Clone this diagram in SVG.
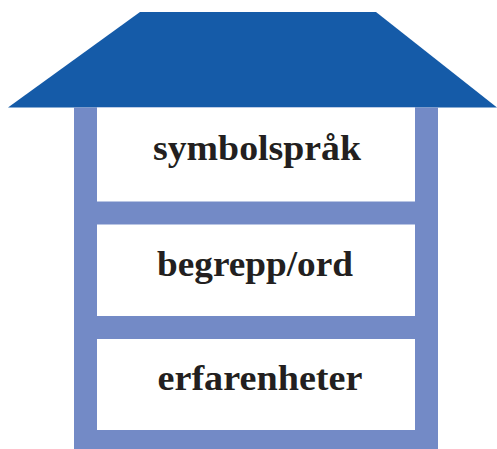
<svg xmlns="http://www.w3.org/2000/svg" width="497" height="449" viewBox="0 0 497 449">
<style>
.wall{fill:#738ac6}
.room{fill:#ffffff}
.lbl{font-family:"Liberation Serif","Times New Roman",serif;font-weight:bold;font-size:35px;fill:#231f20;text-anchor:middle}
</style>
<rect width="497" height="449" fill="#ffffff"/>
<g id="roof"><polygon points="140,12 376,12 497,107.5 8,107.5" fill="#155ba8"/></g>
<g id="frame"><rect class="wall" x="74" y="107.5" width="364" height="341.5"/></g>
<g id="symbolsprak">
<rect class="room" x="97" y="107.5" width="318" height="94"/>
<text class="lbl" x="257" y="160" textLength="208" lengthAdjust="spacingAndGlyphs">symbolspråk</text>
</g>
<g id="begrepp">
<rect class="room" x="97" y="224.5" width="318" height="91.5"/>
<text class="lbl" x="255" y="276" textLength="196" lengthAdjust="spacingAndGlyphs">begrepp/ord</text>
</g>
<g id="erfarenheter">
<rect class="room" x="97" y="339" width="318" height="91"/>
<text class="lbl" x="260" y="390" textLength="205" lengthAdjust="spacingAndGlyphs">erfarenheter</text>
</g>
<g id="connectors"></g>
</svg>
